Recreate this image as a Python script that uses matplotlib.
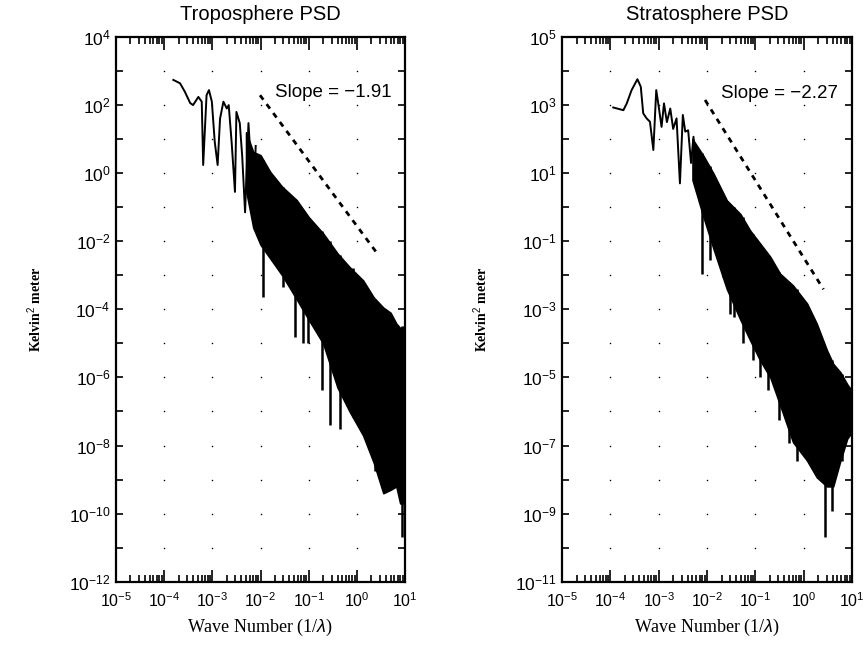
import numpy as np
import matplotlib
matplotlib.use("Agg")
import matplotlib.pyplot as plt
from matplotlib.ticker import LogLocator, FixedLocator, NullFormatter

# ---- data (log10 of wave number, log10 of PSD) ----
# Troposphere: low-frequency part drawn as a line
tropo_line_x = [-3.81, -3.67, -3.57, -3.46, -3.40, -3.29, -3.22, -3.19, -3.12, -3.07,
                -3.01, -2.95, -2.89, -2.84, -2.77, -2.70, -2.66, -2.60, -2.53, -2.50,
                -2.43, -2.38, -2.32, -2.25, -2.20, -2.15, -2.10]
tropo_line_y = [2.74, 2.64, 2.39, 2.06, 2.00, 2.24, 2.10, 0.24, 2.29, 2.44,
                2.10, 0.92, 0.24, 1.60, 2.10, 1.90, 2.00, 0.92, -0.55, 1.80,
                1.47, 0.50, -1.15, 1.47, 0.30, -1.43, 0.80]
# Troposphere: dense high-frequency band (upper / lower envelope)
tropo_band_x = [-2.30, -2.15, -2.00, -1.80, -1.55, -1.25, -1.00, -0.70, -0.40,
                -0.15, 0.13, 0.35, 0.55, 0.70, 0.82, 0.90, 1.00]
tropo_band_hi = [1.20, 0.62, 0.53, 0.04, -0.40, -0.79, -1.29, -1.77, -2.36,
                 -2.76, -3.15, -3.65, -3.95, -4.10, -4.42, -4.55, -4.50]
tropo_band_lo = [-0.50, -1.60, -2.10, -2.50, -3.00, -3.70, -4.30, -5.00, -6.30,
                 -7.00, -7.70, -8.50, -9.40, -9.30, -9.20, -9.70, -9.70]
# Troposphere: deep downward spikes (x, bottom, top)
tropo_spike_x = [-2.15, -1.94, -1.53, -1.29, -1.11, -1.01, -0.73, -0.56, -0.35, -0.08, 0.37, 0.58, 0.93]
tropo_spike_lo = [-1.43, -3.65, -3.34, -4.81, -5.00, -5.00, -6.38, -7.41, -7.50, -7.17, -8.74, -9.37, -10.70]
tropo_spike_hi = [0.60, 0.40, -0.40, -0.75, -1.10, -1.30, -1.70, -2.00, -2.40, -2.80, -3.70, -4.00, -4.50]

# Stratosphere
strato_line_x = [-3.94, -3.73, -3.66, -3.56, -3.44, -3.37, -3.32, -3.25, -3.18, -3.11,
                 -3.05, -3.01, -2.94, -2.89, -2.83, -2.76, -2.70, -2.63, -2.56, -2.50,
                 -2.45, -2.39, -2.33, -2.28, -2.20]
strato_line_y = [2.93, 2.85, 3.05, 3.44, 3.76, 3.54, 2.76, 2.61, 2.51, 1.68,
                 3.44, 3.06, 2.36, 3.05, 2.50, 2.90, 2.30, 2.61, 0.70, 2.71,
                 2.22, 2.26, 1.30, 2.07, 1.00]
strato_band_x = [-2.30, -2.07, -1.87, -1.59, -1.31, -1.11, -0.90, -0.69, -0.49,
                 -0.22, 0.07, 0.27, 0.48, 0.61, 0.76, 0.90, 1.00]
strato_band_hi = [2.00, 1.50, 1.00, 0.20, -0.20, -0.68, -1.07, -1.46, -1.95,
                  -2.30, -2.83, -3.42, -4.20, -4.60, -4.85, -5.20, -5.40]
strato_band_lo = [0.80, -0.30, -1.20, -2.40, -3.30, -3.90, -4.50, -5.00, -5.80,
                  -6.90, -7.44, -7.93, -8.20, -8.20, -7.44, -6.80, -6.60]
strato_spike_x = [-2.11, -1.94, -1.66, -1.52, -1.45, -1.25, -1.04, -0.90, -0.73, -0.52, -0.31, -0.14, 0.44, 0.58, 0.79]
strato_spike_lo = [-1.95, -1.56, -2.05, -3.13, -3.22, -4.00, -4.50, -4.99, -5.38, -6.26, -6.94, -7.44, -9.70, -8.91, -7.44]
strato_spike_hi = [1.60, 1.20, 0.40, 0.10, 0.00, -0.30, -0.80, -1.07, -1.40, -1.90, -2.20, -2.40, -4.10, -4.50, -4.90]

# fitted slope lines: x range (log10), y at start (log10), slope
tropo_fit = dict(x0=-2.01, x1=0.44, y0=2.29, slope=-1.91)
strato_fit = dict(x0=-2.04, x1=0.41, y0=3.15, slope=-2.27)

titles = ["Troposphere PSD", "Stratosphere PSD"]
ylims = [(-12, 4), (-11, 5)]

plt.rcParams["font.family"] = ["Liberation Sans", "DejaVu Sans"]
plt.rcParams["mathtext.fontset"] = "custom"
plt.rcParams["mathtext.rm"] = "Liberation Sans"
plt.rcParams["mathtext.it"] = "Liberation Sans:italic"

serif = ["Liberation Serif", "DejaVu Serif"]

fig = plt.figure(figsize=(8.66, 6.46), dpi=100)
ax1 = fig.add_axes([116 / 866, 64.3 / 646, 289 / 866, 544.7 / 646])
ax2 = fig.add_axes([562 / 866, 64.3 / 646, 290 / 866, 544.7 / 646])

panels = [
    (ax1, tropo_line_x, tropo_line_y, tropo_band_x, tropo_band_hi, tropo_band_lo,
     tropo_spike_x, tropo_spike_lo, tropo_spike_hi, tropo_fit),
    (ax2, strato_line_x, strato_line_y, strato_band_x, strato_band_hi, strato_band_lo,
     strato_spike_x, strato_spike_lo, strato_spike_hi, strato_fit),
]

for i, (ax, lx, ly, bx, bhi, blo, sx, slo, shi, fit) in enumerate(panels):
    p = lambda a: 10.0 ** np.asarray(a)
    ylo, yhi = ylims[i]

    # faint dotted grid: dots at decade crossings
    gx, gy = np.meshgrid(np.arange(-4, 1), np.arange(ylo + 1, yhi))
    ax.scatter(p(gx.ravel()), p(gy.ravel()), s=1.2, color="black", zorder=1, linewidths=0)

    ax.plot(p(lx), p(ly), color="black", lw=1.4, zorder=3)
    ax.fill_between(p(bx), p(blo), p(bhi), color="black", lw=1.2, zorder=3)
    ax.vlines(p(sx), p(slo), p(shi), color="black", lw=1.8, zorder=3)

    fx = np.array([fit["x0"], fit["x1"]])
    fy = fit["y0"] + fit["slope"] * (fx - fit["x0"])
    ax.plot(p(fx), p(fy), color="black", lw=2.0, ls=(0, (2.0, 2.0)), zorder=4)
    ax.text(p(fit["x0"] + 0.32), p(fy[0] + 0.08 + 0.12 * i),
            f"Slope = \u2212{abs(fit['slope']):.2f}",
            fontsize=13.5, ha="left", va="center")

    ax.set_xscale("log")
    ax.set_yscale("log")
    ax.set_xlim(1e-5, 1e1)
    ax.set_ylim(10.0 ** ylo, 10.0 ** yhi)

    ax.xaxis.set_major_locator(LogLocator(base=10, numticks=20))
    ax.xaxis.set_minor_locator(LogLocator(base=10, subs=np.arange(2, 10), numticks=20))
    ax.xaxis.set_minor_formatter(NullFormatter())
    ax.yaxis.set_major_locator(FixedLocator(10.0 ** np.arange(ylo, yhi + 1, 2)))
    ax.yaxis.set_minor_locator(FixedLocator(10.0 ** np.arange(ylo + 1, yhi, 2)))
    ax.yaxis.set_minor_formatter(NullFormatter())

    ax.tick_params(which="both", direction="in", top=True, right=True, width=1.2)
    ax.tick_params(axis="x", which="major", length=9, labelsize=11.5, pad=7)
    ax.tick_params(axis="x", which="minor", length=5)
    ax.tick_params(axis="y", which="both", length=5, labelsize=12.5, pad=4)
    for s in ax.spines.values():
        s.set_linewidth(1.6)

    ax.set_title(titles[i], fontsize=14.5, pad=12)
    ax.set_xlabel(r"Wave Number (1/$\lambda$)", fontsize=13, family=serif, labelpad=5)
    ax.set_ylabel("Kelvin$^2$ meter", fontsize=10, fontweight="bold", family=serif, labelpad=18)

fig.savefig("out.png", dpi=100)
